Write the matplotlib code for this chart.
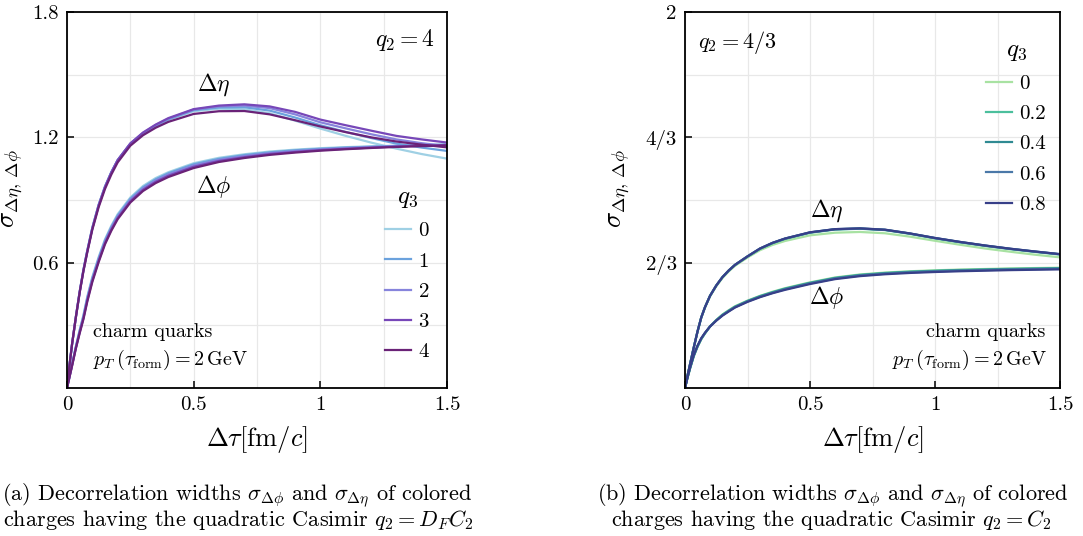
import numpy as np
import matplotlib
matplotlib.use("Agg")
import matplotlib.pyplot as plt
from matplotlib.ticker import MultipleLocator

plt.rcParams['font.family'] = 'serif'
plt.rcParams['font.serif'] = ['cmr10']
plt.rcParams['mathtext.fontset'] = 'cm'
plt.rcParams['axes.unicode_minus'] = False

# time grid, fm/c
tau = [0, 0.01, 0.02, 0.035, 0.05, 0.065, 0.08, 0.1, 0.125, 0.15, 0.175, 0.2,
       0.25, 0.3, 0.35, 0.4, 0.5, 0.6, 0.7, 0.8, 0.9, 1.0, 1.1, 1.2, 1.3, 1.4, 1.5]

# panel (a): q2 = 4
q3_a = ['0', '1', '2', '3', '4']
eta_a = [
    [0, 0.11, 0.21, 0.34, 0.46, 0.567, 0.658, 0.768, 0.878, 0.965, 1.034, 1.091,
     1.168, 1.217, 1.254, 1.284, 1.325, 1.337, 1.334, 1.315, 1.280, 1.242, 1.207,
     1.175, 1.146, 1.120, 1.098],
    [0, 0.11, 0.21, 0.34, 0.46, 0.566, 0.657, 0.767, 0.877, 0.964, 1.033, 1.091,
     1.169, 1.219, 1.256, 1.286, 1.330, 1.343, 1.344, 1.328, 1.295, 1.258, 1.226,
     1.197, 1.170, 1.151, 1.135],
    [0, 0.11, 0.21, 0.34, 0.46, 0.565, 0.655, 0.765, 0.875, 0.962, 1.032, 1.090,
     1.170, 1.221, 1.259, 1.289, 1.333, 1.348, 1.352, 1.340, 1.310, 1.272, 1.243,
     1.215, 1.190, 1.172, 1.158],
    [0, 0.11, 0.21, 0.34, 0.46, 0.564, 0.654, 0.764, 0.874, 0.962, 1.032, 1.091,
     1.171, 1.223, 1.261, 1.292, 1.335, 1.352, 1.358, 1.348, 1.322, 1.285, 1.258,
     1.232, 1.207, 1.190, 1.175],
    [0, 0.11, 0.21, 0.338, 0.456, 0.560, 0.649, 0.758, 0.866, 0.953, 1.022, 1.080,
     1.160, 1.210, 1.246, 1.274, 1.312, 1.325, 1.326, 1.310, 1.282, 1.252, 1.225,
     1.200, 1.180, 1.165, 1.152],
]
phi_a = [
    [0, 0.057, 0.113, 0.200, 0.278, 0.350, 0.437, 0.532, 0.627, 0.712, 0.777, 0.832,
     0.912, 0.967, 1.005, 1.033, 1.076, 1.102, 1.119, 1.132, 1.141, 1.148, 1.153,
     1.157, 1.160, 1.163, 1.166],
    [0, 0.056, 0.112, 0.197, 0.274, 0.345, 0.431, 0.526, 0.621, 0.706, 0.771, 0.826,
     0.906, 0.961, 0.999, 1.028, 1.071, 1.097, 1.115, 1.128, 1.138, 1.145, 1.151,
     1.155, 1.159, 1.162, 1.165],
    [0, 0.055, 0.110, 0.195, 0.270, 0.340, 0.425, 0.520, 0.615, 0.700, 0.765, 0.820,
     0.900, 0.955, 0.993, 1.022, 1.065, 1.092, 1.110, 1.124, 1.134, 1.142, 1.148,
     1.153, 1.157, 1.161, 1.164],
    [0, 0.054, 0.108, 0.192, 0.266, 0.335, 0.419, 0.514, 0.609, 0.694, 0.759, 0.814,
     0.894, 0.949, 0.987, 1.016, 1.059, 1.087, 1.105, 1.120, 1.130, 1.139, 1.145,
     1.151, 1.156, 1.160, 1.163],
    [0, 0.053, 0.106, 0.189, 0.262, 0.330, 0.413, 0.508, 0.603, 0.688, 0.753, 0.808,
     0.888, 0.943, 0.981, 1.010, 1.053, 1.082, 1.101, 1.116, 1.127, 1.136, 1.143,
     1.149, 1.154, 1.158, 1.161],
]
colors_a = ['#9fd0e4', '#6ba2dd', '#8784dc', '#7747b8', '#6a2277']

# panel (b): q2 = 4/3
q3_b = ['0', '0.2', '0.4', '0.6', '0.8']
eta_b = [
    [0, 0.065, 0.125, 0.215, 0.300, 0.374, 0.428, 0.487, 0.541, 0.585, 0.620, 0.650,
     0.694, 0.733, 0.761, 0.782, 0.812, 0.826, 0.830, 0.823, 0.805, 0.783, 0.762,
     0.742, 0.725, 0.709, 0.695],
    [0, 0.065, 0.125, 0.215, 0.300, 0.375, 0.430, 0.490, 0.545, 0.590, 0.625, 0.654,
     0.699, 0.740, 0.770, 0.793, 0.826, 0.843, 0.847, 0.840, 0.820, 0.796, 0.775,
     0.756, 0.739, 0.724, 0.710],
    [0, 0.065, 0.125, 0.215, 0.300, 0.375, 0.430, 0.490, 0.545, 0.590, 0.625, 0.655,
     0.700, 0.741, 0.771, 0.794, 0.827, 0.844, 0.848, 0.841, 0.821, 0.797, 0.776,
     0.757, 0.740, 0.725, 0.711],
    [0, 0.065, 0.125, 0.215, 0.300, 0.375, 0.430, 0.490, 0.545, 0.590, 0.625, 0.655,
     0.700, 0.742, 0.772, 0.795, 0.828, 0.845, 0.849, 0.842, 0.822, 0.798, 0.777,
     0.758, 0.741, 0.726, 0.712],
    [0, 0.065, 0.125, 0.215, 0.300, 0.375, 0.430, 0.490, 0.545, 0.590, 0.625, 0.655,
     0.700, 0.742, 0.772, 0.795, 0.828, 0.845, 0.849, 0.842, 0.822, 0.798, 0.777,
     0.758, 0.741, 0.726, 0.712],
]
phi_b = [
    [0, 0.053, 0.102, 0.168, 0.218, 0.259, 0.290, 0.327, 0.362, 0.391, 0.414, 0.435,
     0.465, 0.490, 0.512, 0.531, 0.562, 0.588, 0.604, 0.614, 0.621, 0.626, 0.630,
     0.633, 0.636, 0.638, 0.640],
    [0, 0.054, 0.103, 0.170, 0.220, 0.260, 0.291, 0.327, 0.361, 0.390, 0.412, 0.433,
     0.463, 0.489, 0.510, 0.529, 0.560, 0.586, 0.602, 0.612, 0.619, 0.624, 0.628,
     0.631, 0.634, 0.636, 0.638],
    [0, 0.055, 0.105, 0.172, 0.222, 0.262, 0.292, 0.327, 0.360, 0.388, 0.410, 0.431,
     0.462, 0.487, 0.508, 0.527, 0.558, 0.584, 0.600, 0.610, 0.617, 0.622, 0.626,
     0.629, 0.632, 0.634, 0.636],
    [0, 0.056, 0.106, 0.173, 0.223, 0.263, 0.293, 0.327, 0.359, 0.387, 0.409, 0.430,
     0.460, 0.485, 0.506, 0.525, 0.556, 0.582, 0.598, 0.608, 0.615, 0.620, 0.624,
     0.627, 0.630, 0.632, 0.634],
    [0, 0.057, 0.108, 0.175, 0.225, 0.265, 0.294, 0.327, 0.358, 0.385, 0.407, 0.428,
     0.458, 0.483, 0.504, 0.522, 0.553, 0.579, 0.595, 0.605, 0.612, 0.617, 0.621,
     0.624, 0.627, 0.629, 0.631],
]
colors_b = ['#a8e2a2', '#4bbf9c', '#2f8a92', '#4a78a8', '#373f88']


def style_axes(ax, ymax, ystep, yticks, yticklabels):
    ax.set_xlim(0, 1.5)
    ax.set_ylim(0, ymax)
    ax.xaxis.set_minor_locator(MultipleLocator(0.25))
    ax.yaxis.set_minor_locator(MultipleLocator(ystep))
    ax.set_xticks([0, 0.5, 1, 1.5])
    ax.set_xticklabels(['0', '0.5', '1', '1.5'])
    ax.set_yticks(yticks)
    ax.set_yticklabels(yticklabels)
    ax.grid(which='both', color='#e8e8e8', lw=0.9)
    ax.set_axisbelow(True)
    ax.tick_params(which='major', direction='in', length=5, width=1.1,
                   labelsize=15, pad=6)
    ax.tick_params(which='minor', length=0)
    for s in ax.spines.values():
        s.set_linewidth(1.3)
    ax.set_xlabel(r'$\Delta\tau[\mathrm{fm}/c]$', fontsize=19)
    ax.set_ylabel(r'$\sigma_{\Delta\eta,\,\Delta\phi}$', fontsize=19)


fig = plt.figure(figsize=(10.83, 5.36), dpi=100)
ax1 = fig.add_axes([67 / 1083, 1 - 388 / 536, 380 / 1083, 376 / 536])
ax2 = fig.add_axes([685 / 1083, 1 - 388 / 536, 375 / 1083, 376 / 536])

legend_kw = dict(frameon=False, fontsize=15, title_fontsize=18, loc='upper left',
                 borderpad=0, handlelength=1.25, handletextpad=0.35,
                 labelspacing=0.56)

# (a)
for lab, e, p, c in zip(q3_a, eta_a, phi_a, colors_a):
    ax1.plot(tau, e, color=c, lw=1.6, label=lab)
    ax1.plot(tau, p, color=c, lw=1.6)
style_axes(ax1, 1.8, 0.3, [0.6, 1.2, 1.8], ['0.6', '1.2', '1.8'])
ax1.text(0.968, 0.926, r'$q_2 = 4$', transform=ax1.transAxes, fontsize=17,
         ha='right', va='center')
ax1.text(0.385, 0.808, r'$\Delta\eta$', transform=ax1.transAxes, fontsize=17,
         ha='center', va='center')
ax1.text(0.385, 0.535, r'$\Delta\phi$', transform=ax1.transAxes, fontsize=17,
         ha='center', va='center')
ax1.text(0.068, 0.149, 'charm quarks', transform=ax1.transAxes, fontsize=14.5,
         ha='left', va='center')
ax1.text(0.068, 0.074, r'$p_T\,(\tau_{\mathrm{form}}) = 2\,\mathrm{GeV}$',
         transform=ax1.transAxes, fontsize=14.5, ha='left', va='center')
ax1.legend(title=r'$q_3$', bbox_to_anchor=(0.81, 0.565), **legend_kw)
ax1.yaxis.set_label_coords(-0.11, 0.53)
ax1.xaxis.set_label_coords(0.5, -0.095)

# (b)
for lab, e, p, c in zip(q3_b, eta_b, phi_b, colors_b):
    ax2.plot(tau, e, color=c, lw=1.6, label=lab)
    ax2.plot(tau, p, color=c, lw=1.6)
style_axes(ax2, 2.0, 1 / 3, [2 / 3, 4 / 3, 2], ['2/3', '4/3', '2'])
ax2.text(0.035, 0.92, r'$q_2 = 4/3$', transform=ax2.transAxes, fontsize=16,
         ha='left', va='center')
ax2.text(0.379, 0.473, r'$\Delta\eta$', transform=ax2.transAxes, fontsize=17,
         ha='center', va='center')
ax2.text(0.379, 0.242, r'$\Delta\phi$', transform=ax2.transAxes, fontsize=17,
         ha='center', va='center')
ax2.text(0.962, 0.149, 'charm quarks', transform=ax2.transAxes, fontsize=14.5,
         ha='right', va='center')
ax2.text(0.965, 0.074, r'$p_T\,(\tau_{\mathrm{form}}) = 2\,\mathrm{GeV}$',
         transform=ax2.transAxes, fontsize=14.5, ha='right', va='center')
ax2.legend(title=r'$q_3$', bbox_to_anchor=(0.775, 0.957), **legend_kw)
ax2.yaxis.set_label_coords(-0.14, 0.53)
ax2.xaxis.set_label_coords(0.5, -0.095)

# captions
fig.text(2 / 1083, 1 - 495 / 536,
         r'(a) Decorrelation widths $\sigma_{\Delta\phi}$ and $\sigma_{\Delta\eta}$ of colored',
         fontsize=16, ha='left', va='center')
fig.text(3 / 1083, 1 - 520 / 536,
         r'charges having the quadratic Casimir $q_2 = D_F C_2$',
         fontsize=16, ha='left', va='center')
fig.text(597 / 1083, 1 - 495 / 536,
         r'(b) Decorrelation widths $\sigma_{\Delta\phi}$ and $\sigma_{\Delta\eta}$ of colored',
         fontsize=16, ha='left', va='center')
fig.text(611 / 1083, 1 - 520 / 536,
         r'charges having the quadratic Casimir $q_2 = C_2$',
         fontsize=16, ha='left', va='center')

fig.savefig('out.png', dpi=100)
